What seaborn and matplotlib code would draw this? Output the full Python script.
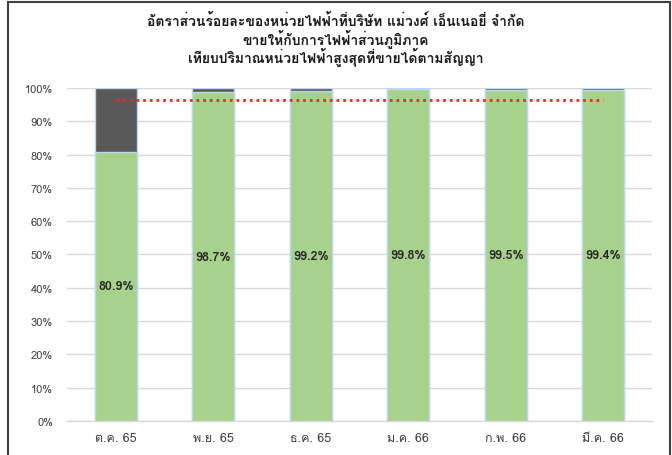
import matplotlib
matplotlib.use("Agg")
import matplotlib.pyplot as plt
from matplotlib import font_manager
from matplotlib.ft2font import FT2Font
import seaborn as sns
import pandas as pd

months = ["ต.ค. 65", "พ.ย. 65", "ธ.ค. 65", "ม.ค. 66", "ก.พ. 66", "มี.ค. 66"]
sold_pct = [80.9, 98.7, 99.2, 99.8, 99.5, 99.4]
total_pct = [100, 100, 100, 100, 100, 100]
target_pct = [96.5, 96.5, 96.5, 96.5, 96.5, 96.5]
title_lines = [
    "อัตราส่วนร้อยละของหน่วยไฟฟ้าที่บริษัท แม่วงศ์ เอ็นเนอยี่ จำกัด",
    "ขายให้กับการไฟฟ้าส่วนภูมิภาค",
    "เทียบปริมาณหน่วยไฟฟ้าสูงสุดที่ขายได้ตามสัญญา",
]

sns.set_theme(style="white")

# find an installed font with Thai glyphs
thai_family = None
for f in font_manager.fontManager.ttflist:
    try:
        cm = FT2Font(f.fname).get_charmap()
        if 0x0E2D in cm and 0x0E35 in cm:
            thai_family = f.name
            break
    except Exception:
        pass
families = ([thai_family] if thai_family else []) + ["DejaVu Sans"]
plt.rcParams["font.family"] = families

df = pd.DataFrame({"month": months, "sold": sold_pct, "total": total_pct, "target": target_pct})

fig = plt.figure(figsize=(6.72, 4.56), dpi=100)
ax = fig.add_axes([0.0997, 0.0746, 0.8706, 0.7303])

sns.barplot(data=df, x="month", y="total", color="#595959", width=0.43,
            edgecolor="#BDD7EE", linewidth=1, saturation=1, ax=ax, zorder=2)
sns.barplot(data=df, x="month", y="sold", color="#A9D18E", width=0.43,
            edgecolor="#BDD7EE", linewidth=1, saturation=1, ax=ax, zorder=3)
sns.lineplot(data=df, x="month", y="target", color="#FF2020", linestyle=(0, (1, 1.4)),
             linewidth=2, ax=ax, zorder=4)

for i, v in enumerate(sold_pct):
    ax.text(i, v / 2, f"{v:.1f}%", ha="center", va="center", fontsize=9,
            fontweight="bold", color="#262626", zorder=5)

ax.set_xlim(-0.5, 5.5)
ax.set_ylim(0, 100)
ax.set_yticks(range(0, 101, 10))
ax.set_yticklabels([f"{t}%" for t in range(0, 101, 10)], fontsize=8, color="#404040")
ax.tick_params(axis="x", labelsize=9, colors="#404040", pad=8, length=0)
ax.tick_params(axis="y", length=0, pad=10)
ax.set_xlabel("")
ax.set_ylabel("")
ax.yaxis.grid(True, color="#D9D9D9", linewidth=1)
ax.set_axisbelow(True)
for s in ["top", "right", "left"]:
    ax.spines[s].set_visible(False)
ax.spines["bottom"].set_color("#D9D9D9")
ax.spines["bottom"].set_linewidth(1)

for line, ypx in zip(title_lines, [21, 39, 57]):
    fig.text(0.5, 1 - ypx / 456, line, ha="center", va="center", fontsize=10,
             fontweight="bold", color="#1a1a1a")

border = plt.Rectangle((8 / 672, -0.05), 662 / 672, 1.05 - 3 / 456, transform=fig.transFigure,
                       fill=False, edgecolor="#404040", linewidth=1.5)
fig.add_artist(border)

fig.savefig("out.png", dpi=100)
